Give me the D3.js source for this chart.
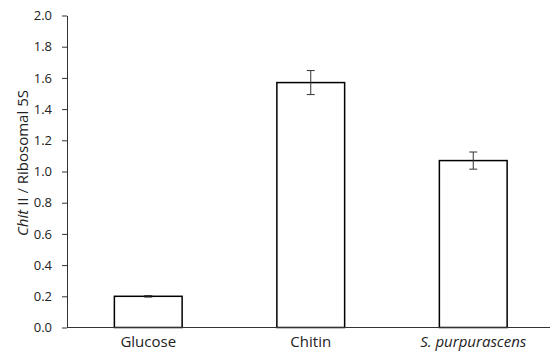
<!DOCTYPE html>
<meta charset="utf-8">
<style>
    body { margin: 0; background: #fff; }
    text { font-family: "Open Sans", "Liberation Sans", sans-serif; fill: #222; }
</style>
<svg width="551" height="351"></svg>
<script src="https://d3js.org/d3.v7.min.js"></script>
<script>
    // data
    var categories = ["Glucose", "Chitin", "S. purpurascens"];
    var values = [0.20, 1.57, 1.07];
    var errors = [0.005, 0.077, 0.055];
    var yTicks = [0, 0.2, 0.4, 0.6, 0.8, 1.0, 1.2, 1.4, 1.6, 1.8, 2.0];

    var svg = d3.select("svg");
    var x = d3.scaleBand().domain(categories).range([67, 554.5]).paddingInner(0.583).paddingOuter(0.2915);
    var y = d3.scaleLinear().domain([0, 2]).range([327.5, 15.5]);

    // bars
    svg.selectAll("rect.bar")
        .data(values)
        .enter()
        .append("rect")
        .attr("class", "bar")
        .attr("x", function (d, i) { return x(categories[i]); })
        .attr("y", function (d) { return y(d); })
        .attr("width", x.bandwidth())
        .attr("height", function (d) { return y(0) - y(d); })
        .attr("fill", "#fff")
        .attr("stroke", "#000")
        .attr("stroke-width", 1.5);

    // error bars
    var eb = svg.selectAll("g.err")
        .data(values)
        .enter()
        .append("g")
        .attr("class", "err")
        .attr("stroke", "#333")
        .attr("stroke-width", 1);
    eb.append("line")
        .attr("x1", function (d, i) { return x(categories[i]) + x.bandwidth() / 2; })
        .attr("x2", function (d, i) { return x(categories[i]) + x.bandwidth() / 2; })
        .attr("y1", function (d, i) { return y(d + errors[i]); })
        .attr("y2", function (d, i) { return y(d - errors[i]); });
    [1, -1].forEach(function (s) {
        eb.append("line")
            .attr("x1", function (d, i) { return x(categories[i]) + x.bandwidth() / 2 - 4; })
            .attr("x2", function (d, i) { return x(categories[i]) + x.bandwidth() / 2 + 4; })
            .attr("y1", function (d, i) { return y(d + s * errors[i]); })
            .attr("y2", function (d, i) { return y(d + s * errors[i]); });
    });

    // y axis
    var yAxis = svg.append("g")
        .attr("transform", "translate(67,0)")
        .call(d3.axisLeft(y).tickValues(yTicks).tickFormat(d3.format(".1f")).tickSize(5).tickSizeOuter(0).tickPadding(10));
    yAxis.selectAll("line, path").attr("stroke", "#333");
    yAxis.selectAll("text").style("font-size", "13px").attr("fill", "#333");

    // x axis
    svg.append("line")
        .attr("x1", 67).attr("x2", 550)
        .attr("y1", y(0)).attr("y2", y(0))
        .attr("stroke", "#333");

    svg.selectAll("text.cat")
        .data(categories)
        .enter()
        .append("text")
        .attr("class", "cat")
        .attr("x", function (d) { return x(d) + x.bandwidth() / 2; })
        .attr("y", 347)
        .attr("text-anchor", "middle")
        .style("font-size", "15px")
        .style("font-style", function (d, i) { return i === 2 ? "italic" : "normal"; })
        .text(function (d) { return d; });

    // y title
    var title = svg.append("text")
        .attr("transform", "translate(28,163) rotate(-90)")
        .attr("text-anchor", "middle")
        .style("font-size", "15px");
    title.append("tspan").style("font-style", "italic").text("Chit");
    title.append("tspan").text(" II / Ribosomal 5S");
</script>
